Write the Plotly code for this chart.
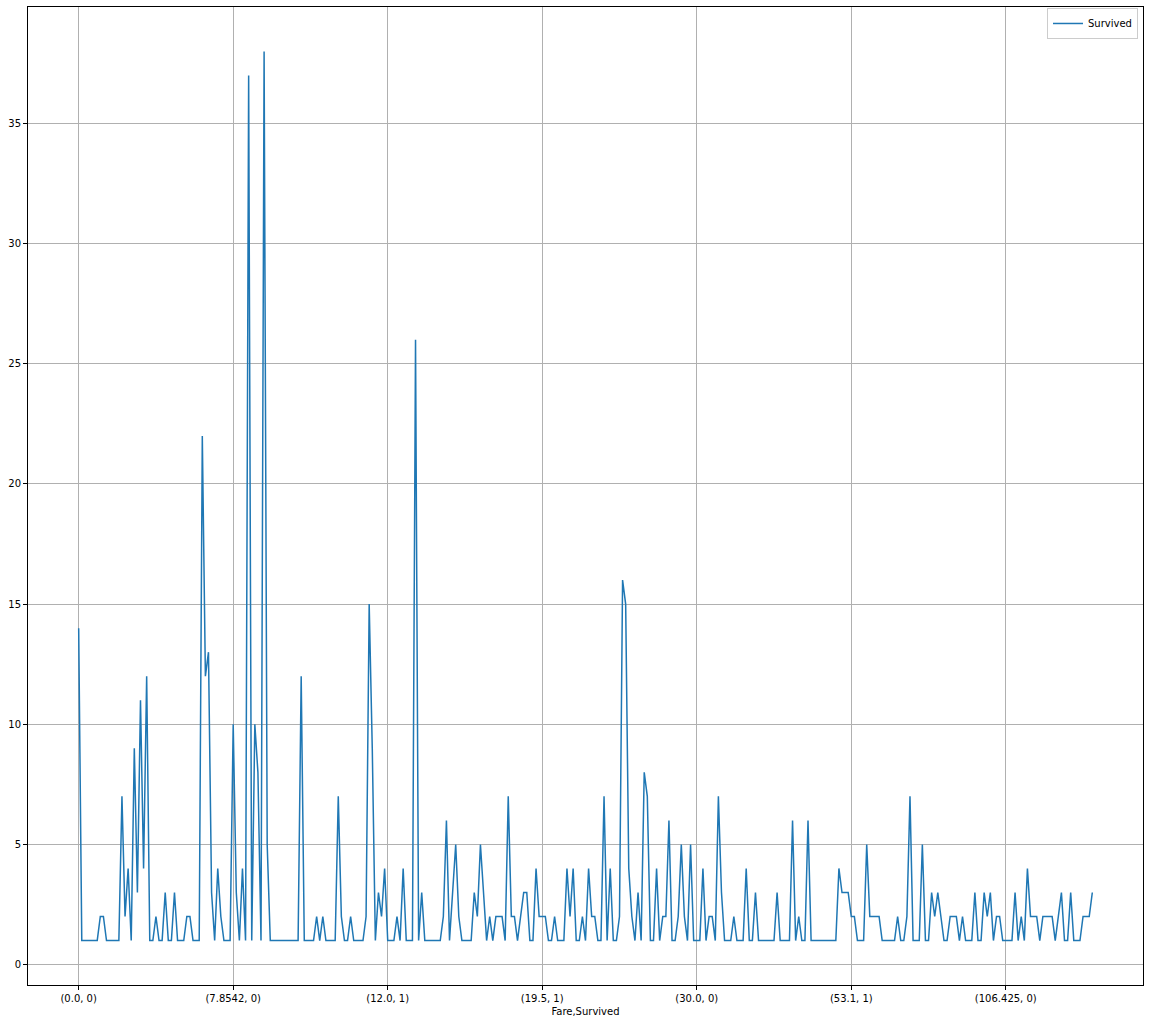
import plotly.graph_objects as go

# Counts of passengers per (Fare, Survived) group, in group order
survived_counts = [
    14, 1, 1, 1, 1, 1, 1, 2, 2, 1, 1, 1, 1, 1, 7, 2, 4, 1, 9, 3,
    11, 4, 12, 1, 1, 2, 1, 1, 3, 1, 1, 3, 1, 1, 1, 2, 2, 1, 1, 1,
    22, 12, 13, 3, 1, 4, 2, 1, 1, 1, 10, 3, 1, 4, 1, 37, 1, 10, 8, 1,
    38, 5, 1, 1, 1, 1, 1, 1, 1, 1, 1, 1, 12, 1, 1, 1, 1, 2, 1, 2,
    1, 1, 1, 1, 7, 2, 1, 1, 2, 1, 1, 1, 1, 2, 15, 9, 1, 3, 2, 4,
    1, 1, 1, 2, 1, 4, 1, 1, 1, 26, 1, 3, 1, 1, 1, 1, 1, 1, 2, 6,
    1, 3, 5, 2, 1, 1, 1, 1, 3, 2, 5, 3, 1, 2, 1, 2, 2, 2, 1, 7,
    2, 2, 1, 2, 3, 3, 1, 1, 4, 2, 2, 2, 1, 1, 2, 1, 1, 1, 4, 2,
    4, 1, 1, 2, 1, 4, 2, 2, 1, 1, 7, 1, 4, 1, 1, 2, 16, 15, 4, 2,
    1, 3, 1, 8, 7, 1, 1, 4, 1, 2, 2, 6, 1, 1, 2, 5, 2, 1, 5, 1,
    1, 1, 4, 1, 2, 2, 1, 7, 3, 1, 1, 1, 2, 1, 1, 1, 4, 1, 1, 3,
    1, 1, 1, 1, 1, 1, 3, 1, 1, 1, 1, 6, 1, 2, 1, 1, 6, 1, 1, 1,
    1, 1, 1, 1, 1, 1, 4, 3, 3, 3, 2, 2, 1, 1, 1, 5, 2, 2, 2, 2,
    1, 1, 1, 1, 1, 2, 1, 1, 2, 7, 1, 1, 1, 5, 1, 1, 3, 2, 3, 2,
    1, 1, 2, 2, 2, 1, 2, 1, 1, 1, 3, 1, 1, 3, 2, 3, 1, 2, 2, 1,
    1, 1, 1, 3, 1, 2, 1, 4, 2, 2, 2, 1, 2, 2, 2, 2, 1, 2, 3, 1,
    1, 3, 1, 1, 1, 2, 2, 2, 3,
]

tick_positions = [0, 50, 100, 150, 200, 250, 300]
tick_labels = ["(0.0, 0)", "(7.8542, 0)", "(12.0, 1)", "(19.5, 1)",
               "(30.0, 0)", "(53.1, 1)", "(106.425, 0)"]

x_index = list(range(len(survived_counts)))

fig = go.Figure()
fig.add_trace(go.Scatter(
    x=x_index, y=survived_counts, mode="lines", name="Survived",
    line=dict(color="#1f77b4", width=1.5), showlegend=True,
))

n = len(survived_counts) - 1
xpad = 0.05 * n
ymin, ymax = min(survived_counts), max(survived_counts)
ypad = 0.05 * (ymax - ymin)

axis_common = dict(
    showline=True, mirror=True, linecolor="black", linewidth=1,
    showgrid=True, gridcolor="#b0b0b0", gridwidth=0.8,
    ticks="outside", ticklen=4, tickcolor="black",
    zeroline=False,
    tickfont=dict(family="DejaVu Sans", size=10, color="black"),
)

fig.update_layout(
    width=1150, height=1023,
    margin=dict(l=28, r=7, t=7, b=38),
    plot_bgcolor="white", paper_bgcolor="white",
    font=dict(family="DejaVu Sans", size=10, color="black"),
    xaxis=dict(
        range=[-xpad, n + xpad],
        tickmode="array", tickvals=tick_positions, ticktext=tick_labels,
        title=dict(text="Fare,Survived", standoff=4,
                   font=dict(family="DejaVu Sans", size=10, color="black")),
        **axis_common,
    ),
    yaxis=dict(
        range=[ymin - ypad, ymax + ypad],
        tickmode="linear", tick0=0, dtick=5,
        **axis_common,
    ),
    legend=dict(
        x=0.9955, y=0.999, xanchor="right", yanchor="top",
        bgcolor="white", bordercolor="#cccccc", borderwidth=1,
        font=dict(family="DejaVu Sans", size=10, color="black"),
        itemwidth=30, tracegroupgap=0,
    ),
)

fig.write_html("out.html", config={"displayModeBar": False},
               post_script="document.body.style.margin='0';")
